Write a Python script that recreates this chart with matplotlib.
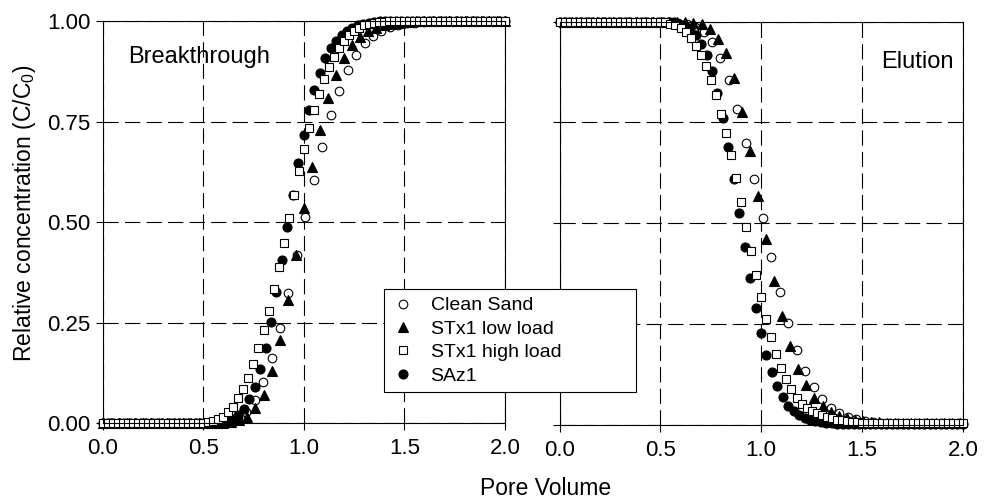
import matplotlib.pyplot as plt

plt.rcParams['font.family'] = ['Liberation Sans', 'DejaVu Sans']
plt.rcParams['mathtext.fontset'] = 'custom'
plt.rcParams['mathtext.rm'] = 'Liberation Sans'
plt.rcParams['lines.scale_dashes'] = False

# === Pore volumes (sampling of each series)
pv_sand = [0.000, 0.042, 0.084, 0.126, 0.168, 0.210, 0.252, 0.294, 0.336, 0.378,
           0.420, 0.462, 0.504, 0.546, 0.588, 0.630, 0.672, 0.714, 0.756, 0.798,
           0.840, 0.882, 0.924, 0.966, 1.008, 1.050, 1.092, 1.134, 1.176, 1.218,
           1.260, 1.302, 1.344, 1.386, 1.428, 1.470, 1.512, 1.554, 1.596, 1.638,
           1.680, 1.722, 1.764, 1.806, 1.848, 1.890, 1.932, 1.974]

pv_low_bt = [0.00, 0.04, 0.08, 0.12, 0.16, 0.20, 0.24, 0.28, 0.32, 0.36,
             0.40, 0.44, 0.48, 0.52, 0.56, 0.60, 0.64, 0.68, 0.72, 0.76,
             0.80, 0.84, 0.88, 0.92, 0.96, 1.00, 1.04, 1.08, 1.12, 1.16,
             1.20, 1.24, 1.28, 1.32, 1.36, 1.40, 1.44, 1.48, 1.52, 1.56,
             1.60, 1.64, 1.68, 1.72, 1.76, 1.80, 1.84, 1.88, 1.92, 1.96, 2.00]

pv_low_el = [0.024, 0.064, 0.104, 0.144, 0.184, 0.224, 0.264, 0.304, 0.344, 0.384,
             0.424, 0.464, 0.504, 0.544, 0.584, 0.624, 0.664, 0.704, 0.744, 0.784,
             0.824, 0.864, 0.904, 0.944, 0.984, 1.024, 1.064, 1.104, 1.144, 1.184,
             1.224, 1.264, 1.304, 1.344, 1.384, 1.424, 1.464, 1.504, 1.544, 1.584,
             1.624, 1.664, 1.704, 1.744, 1.784, 1.824, 1.864, 1.904, 1.944, 1.984]

pv_high = [0.000, 0.025, 0.050, 0.075, 0.100, 0.125, 0.150, 0.175, 0.200, 0.225,
           0.250, 0.275, 0.300, 0.325, 0.350, 0.375, 0.400, 0.425, 0.450, 0.475,
           0.500, 0.525, 0.550, 0.575, 0.600, 0.625, 0.650, 0.675, 0.700, 0.725,
           0.750, 0.775, 0.800, 0.825, 0.850, 0.875, 0.900, 0.925, 0.950, 0.975,
           1.000, 1.025, 1.050, 1.075, 1.100, 1.125, 1.150, 1.175, 1.200, 1.225,
           1.250, 1.275, 1.300, 1.325, 1.350, 1.375, 1.400, 1.425, 1.450, 1.475,
           1.500, 1.525, 1.550, 1.575, 1.600, 1.625, 1.650, 1.675, 1.700, 1.725,
           1.750, 1.775, 1.800, 1.825, 1.850, 1.875, 1.900, 1.925, 1.950, 1.975, 2.000]

pv_saz = [0.000, 0.027, 0.054, 0.081, 0.108, 0.135, 0.162, 0.189, 0.216, 0.243,
          0.270, 0.297, 0.324, 0.351, 0.378, 0.405, 0.432, 0.459, 0.486, 0.513,
          0.540, 0.567, 0.594, 0.621, 0.648, 0.675, 0.702, 0.729, 0.756, 0.783,
          0.810, 0.837, 0.864, 0.891, 0.918, 0.945, 0.972, 0.999, 1.026, 1.053,
          1.080, 1.107, 1.134, 1.161, 1.188, 1.215, 1.242, 1.269, 1.296, 1.323,
          1.350, 1.377, 1.404, 1.431, 1.458, 1.485, 1.512, 1.539, 1.566, 1.593,
          1.620, 1.647, 1.674, 1.701, 1.728, 1.755, 1.782, 1.809, 1.836, 1.863,
          1.890, 1.917, 1.944, 1.971, 1.998]

# === Breakthrough C/C0
bt_sand = [0, 0, 0, 0, 0, 0, 0, 0, 0, 0, 0, 0, 0,
           0.001, 0.003, 0.007, 0.015, 0.028, 0.057, 0.101, 0.161, 0.236, 0.323,
           0.418, 0.512, 0.605, 0.687, 0.766, 0.826, 0.878, 0.915, 0.945, 0.963,
           0.975, 0.984, 0.990, 0.994, 0.996, 0.998, 0.999,
           1, 1, 1, 1, 1, 1, 1, 1]

bt_low = [0, 0, 0, 0, 0, 0, 0, 0, 0, 0, 0, 0, 0, 0, 0,
          0.001, 0.003, 0.007, 0.016, 0.037, 0.070, 0.129, 0.206, 0.306, 0.418,
          0.534, 0.638, 0.729, 0.808, 0.866, 0.909, 0.940, 0.960, 0.974, 0.983,
          0.989, 0.993, 0.996, 0.998, 0.999,
          1, 1, 1, 1, 1, 1, 1, 1, 1, 1, 1]

bt_high = [0, 0, 0, 0, 0, 0, 0, 0, 0, 0, 0, 0, 0, 0, 0, 0, 0, 0, 0, 0,
           0.001, 0.002, 0.004, 0.009, 0.016, 0.027, 0.041, 0.061, 0.085, 0.111,
           0.146, 0.186, 0.231, 0.279, 0.333, 0.389, 0.447, 0.509, 0.568, 0.628,
           0.681, 0.733, 0.779, 0.818, 0.857, 0.886, 0.911, 0.932, 0.950, 0.964,
           0.975, 0.983, 0.989, 0.993, 0.995, 0.997, 0.998, 0.999,
           1, 1, 1, 1, 1, 1, 1, 1, 1, 1, 1, 1, 1, 1, 1, 1, 1, 1, 1, 1, 1, 1, 1]

bt_saz = [0, 0, 0, 0, 0, 0, 0, 0, 0, 0, 0, 0, 0, 0, 0, 0, 0, 0, 0, 0, 0,
          0.001, 0.002, 0.004, 0.010, 0.019, 0.035, 0.059, 0.090, 0.134, 0.187,
          0.252, 0.325, 0.405, 0.488, 0.568, 0.646, 0.716, 0.779, 0.828, 0.870,
          0.907, 0.932, 0.950, 0.964, 0.975, 0.983, 0.989, 0.993, 0.996, 0.998, 0.999,
          1, 1, 1, 1, 1, 1, 1, 1, 1, 1, 1, 1, 1, 1, 1, 1, 1, 1, 1, 1, 1, 1, 1]

# === Elution C/C0
el_sand = [1, 1, 1, 1, 1, 1, 1, 1, 1, 1, 1, 1, 1,
           0.999, 0.997, 0.994, 0.988, 0.975, 0.950, 0.910, 0.855, 0.783, 0.700,
           0.609, 0.513, 0.416, 0.329, 0.252, 0.184, 0.133, 0.092, 0.064, 0.042,
           0.028, 0.019, 0.013, 0.009, 0.007, 0.005, 0.004,
           0.003, 0.003, 0.003, 0.003, 0.003, 0.003, 0.003, 0.003]

el_low = [1, 1, 1, 1, 1, 1, 1, 1, 1, 1, 1, 1, 1, 1, 1,
          0.999, 0.997, 0.993, 0.982, 0.958, 0.921, 0.861, 0.776, 0.679, 0.567,
          0.460, 0.357, 0.269, 0.196, 0.139, 0.097, 0.067, 0.045, 0.031, 0.022,
          0.016, 0.012, 0.009, 0.007, 0.006,
          0.005, 0.005, 0.005, 0.005, 0.005, 0.005, 0.005, 0.005, 0.005, 0.005]

el_high = [1, 1, 1, 1, 1, 1, 1, 1, 1, 1, 1, 1, 1, 1, 1, 1, 1, 1, 1, 1,
           0.999, 0.998, 0.995, 0.991, 0.985, 0.975, 0.959, 0.940, 0.917, 0.891,
           0.855, 0.818, 0.771, 0.724, 0.670, 0.612, 0.552, 0.491, 0.431, 0.371,
           0.317, 0.263, 0.217, 0.176, 0.140, 0.112, 0.087, 0.066, 0.052, 0.042,
           0.034, 0.028, 0.023, 0.019, 0.015, 0.012, 0.010, 0.008, 0.007, 0.006,
           0.005, 0.005, 0.005, 0.005, 0.005, 0.005, 0.005, 0.005, 0.005, 0.005,
           0.004, 0.004, 0.004, 0.004, 0.004, 0.004, 0.004, 0.004, 0.004, 0.004, 0.004]

el_saz = [1, 1, 1, 1, 1, 1, 1, 1, 1, 1, 1, 1, 1, 1, 1, 1, 1, 1, 1, 1,
          0.999, 0.998, 0.995, 0.990, 0.981, 0.967, 0.944, 0.917, 0.877, 0.822,
          0.760, 0.690, 0.609, 0.524, 0.440, 0.364, 0.289, 0.228, 0.173, 0.130,
          0.095, 0.068, 0.047, 0.033, 0.023, 0.016, 0.011, 0.008, 0.006, 0.004, 0.003,
          0.002, 0.002, 0.002, 0.002, 0.002, 0.002, 0.002, 0.002, 0.002, 0.002, 0.002, 0.002,
          0.002, 0.002, 0.002, 0.002, 0.002, 0.002, 0.002, 0.002, 0.002, 0.002, 0.002, 0.002]

labels = ["Clean Sand", "STx1 low load", "STx1 high load", "SAz1"]
styles = [
    dict(marker='o', ms=6.2, mfc='white', mec='black', mew=0.8),
    dict(marker='^', ms=6.5, mfc='black', mec='black', mew=0.8),
    dict(marker='s', ms=5.6, mfc='white', mec='black', mew=0.8),
    dict(marker='o', ms=6.5, mfc='black', mec='black', mew=0.8),
]

panels = [
    ([pv_sand, pv_low_bt, pv_high, pv_saz], [bt_sand, bt_low, bt_high, bt_saz]),
    ([pv_sand, pv_low_el, pv_high, pv_saz], [el_sand, el_low, el_high, el_saz]),
]

fig = plt.figure(figsize=(9.84, 5.04), dpi=100)
ax1 = fig.add_axes([0.1042, 0.1607, 0.4090, 0.7976])
ax2 = fig.add_axes([0.5686, 0.1577, 0.4100, 0.7993])

draw_order = [0, 1, 3, 2]  # squares end up on top of the filled circles
handles = {}
for ax, (xs, ys) in zip([ax1, ax2], panels):
    for i in draw_order:
        h, = ax.plot(xs[i], ys[i], linestyle='none', clip_on=False,
                     label=labels[i], **styles[i])
        handles[i] = h

    ax.set_xlim(0, 2)
    ax.set_ylim(0, 1)
    ax.set_xticks([0, 0.5, 1.0, 1.5, 2.0])
    ax.set_xticklabels(['0.0', '0.5', '1.0', '1.5', '2.0'])
    ax.set_yticks([0, 0.25, 0.5, 0.75, 1.0])
    ax.tick_params(direction='out', length=5, width=0.8, labelsize=16)
    ax.tick_params(axis='x', pad=6)
    ax.tick_params(axis='y', pad=3.5)
    ax.grid(True, color='black', linewidth=0.8, linestyle=(0, (11, 4.5)))
    ax.set_axisbelow(True)
    for s in ax.spines.values():
        s.set_linewidth(0.8)

ax1.set_yticklabels(['0.00', '0.25', '0.50', '0.75', '1.00'])
ax2.tick_params(axis='y', labelleft=False)

ax1.text(0.127, 0.895, "Breakthrough", fontsize=17)
ax2.text(1.594, 0.884, "Elution", fontsize=17)

fig.text(0.554, 0.018, "Pore Volume", ha='center', va='baseline', fontsize=16.5)
fig.text(0.0244, 0.577, r"Relative concentration (C/C$_{\mathrm{0}}$)",
         rotation=90, ha='center', va='center', fontsize=16.5)

leg_h = 0.2083
leg = fig.legend([handles[i] for i in range(4)], labels,
                 loc='upper left', bbox_to_anchor=(0.3902, 0.4266 - leg_h, 0.2561, leg_h),
                 mode='expand', borderaxespad=0, fontsize=14, fancybox=False,
                 framealpha=1, edgecolor='black', handlelength=1.2,
                 handletextpad=0.8, borderpad=0.4, labelspacing=0.3)
leg.get_frame().set_linewidth(0.8)

fig.savefig("out.png", dpi=100)
